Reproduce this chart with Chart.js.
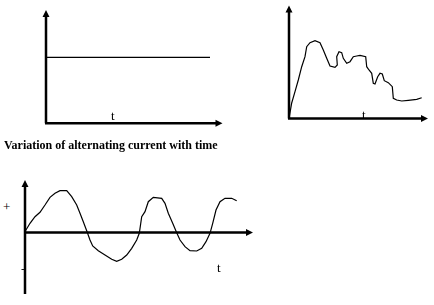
<!DOCTYPE html>
<html>
<head>
<meta charset="utf-8">
<script src="https://cdn.jsdelivr.net/npm/chart.js@4/dist/chart.umd.min.js"></script>
<style>
  html, body { margin: 0; padding: 0; background: #fff; }
  body { width: 434px; height: 305px; position: relative; overflow: hidden; }
  canvas { position: absolute; }
  .lbl { position: absolute; font-family: "Liberation Serif", serif; font-size: 13px; color: #000; line-height: 1; white-space: nowrap; }
  .title { font-weight: bold; font-size: 12px; }
</style>
</head>
<body>
<canvas id="dc"></canvas>
<canvas id="rect"></canvas>
<canvas id="ac"></canvas>

<div class="lbl" style="left:111px; top:109px;">t</div>
<div class="lbl" style="left:362px; top:108px;">t</div>
<div class="lbl title" style="left:4px; top:139px;">Variation of alternating current with time</div>
<div class="lbl" style="left:3px; top:200px;">+</div>
<div class="lbl" style="left:21px; top:262px;">-</div>
<div class="lbl" style="left:217px; top:261px;">t</div>

<script>
// top left: steady current
var dcTime = [0, 164];
var dcCurrent = [66, 66];

// top right: irregular current
var rectTime = [0, 2.7, 6, 9.3, 12.7, 16, 17.7, 21, 26, 31, 34.3, 37.7, 41, 46, 48.3, 47.7, 50, 52.7,
    54.3, 57.7, 61, 64.3, 67.7, 71, 76.7, 77.7, 80, 82.7, 84.3, 86, 88.7, 91, 93.3, 95.3, 99.3,
    103.3, 104.3, 107.7, 112.7, 119.3, 127.7, 132.7];
var rectCurrent = [0, 15.5, 26.8, 38.5, 51.8, 61.8, 71.8, 75.8, 77.8, 75.8, 68.5, 60.2, 52.5, 51.2, 53.5, 61.8, 66.8, 65.8,
    60.2, 55.2, 56.8, 61.8, 62.5, 63.2, 61.8, 51.8, 48.5, 45.2, 35.2, 34.5, 41.8, 45.2, 44.5, 37.8, 35.8,
    31.8, 20.2, 18.5, 17.5, 18.2, 19.2, 20.8];

// bottom: alternating current
var acTime = [0, 1, 5, 10, 15, 20, 25, 30, 35, 41.7, 46.7, 51.7, 55, 58.3, 61.7, 65, 67.7, 73.3, 80,
    86.7, 91.7, 96.7, 101.7, 106.7, 111.7, 114.3, 116.7, 120, 123.3, 128.3, 136.7, 140, 143.3, 147.7,
    151.7, 155, 160, 165, 171.7, 176.7, 181, 185, 187.7, 191, 195, 200, 206.7, 211.7];
var acCurrent = [1.5, 2.5, 9.2, 15.8, 20.2, 27.5, 35.2, 39.2, 41.8, 41.8, 35.8, 27.5, 19.2, 10.8, 1.8, -7.5, -13.5, -18.2, -22.5,
    -26.8, -28.8, -26.8, -22.5, -15.8, -7.5, -0.8, 15.8, 20.8, 30.8, 35.2, 34.2, 29.2, 19.2, 9.2,
    -0.2, -7.5, -14.2, -18.2, -18.5, -15.8, -9.2, -0.8, 9.2, 22.5, 30.8, 34.2, 34.2, 31.8];

function toPoints(xs, ys) {
    return xs.map(function (x, i) { return { x: x, y: ys[i] }; });
}

// draws the two axes with arrow heads, from the chart's own scales
var arrowAxes = {
    id: 'arrowAxes',
    afterDatasetsDraw: function (chart, args, opts) {
        var ctx = chart.ctx, sx = chart.scales.x, sy = chart.scales.y;
        var ox = sx.getPixelForValue(0), oy = sy.getPixelForValue(0);
        var xTip = sx.getPixelForValue(opts.xEnd);
        var yTip = sy.getPixelForValue(opts.yEnd);
        var yBot = sy.getPixelForValue(opts.yStart);
        ctx.save();
        ctx.strokeStyle = '#000';
        ctx.fillStyle = '#000';
        ctx.lineWidth = 2.5;
        ctx.beginPath();
        ctx.moveTo(ox, yBot);
        ctx.lineTo(ox, yTip + 5);
        ctx.moveTo(ox - 1, oy);
        ctx.lineTo(xTip - 5, oy);
        ctx.stroke();
        ctx.beginPath();
        ctx.moveTo(ox, yTip);
        ctx.lineTo(ox - 3.5, yTip + 7);
        ctx.lineTo(ox + 3.5, yTip + 7);
        ctx.closePath();
        ctx.moveTo(xTip, oy);
        ctx.lineTo(xTip - 7, oy - 3.5);
        ctx.lineTo(xTip - 7, oy + 3.5);
        ctx.closePath();
        ctx.fill();
        ctx.restore();
    }
};

function makeChart(id, box, points, axes) {
    var canvas = document.getElementById(id);
    canvas.width = box.w;
    canvas.height = box.h;
    canvas.style.left = box.left + 'px';
    canvas.style.top = box.top + 'px';
    canvas.style.width = box.w + 'px';
    canvas.style.height = box.h + 'px';
    return new Chart(canvas.getContext('2d'), {
        type: 'line',
        data: {
            datasets: [{
                data: points,
                borderColor: '#000',
                borderWidth: 1.2,
                pointRadius: 0,
                tension: 0,
                fill: false
            }]
        },
        options: {
            responsive: false,
            maintainAspectRatio: false,
            devicePixelRatio: 1,
            animation: false,
            layout: { padding: 0 },
            plugins: {
                legend: { display: false },
                tooltip: { enabled: false },
                arrowAxes: axes
            },
            scales: {
                x: { type: 'linear', display: false, min: box.left - box.ox, max: box.left + box.w - box.ox },
                y: { type: 'linear', display: false, min: box.oy - (box.top + box.h), max: box.oy - box.top }
            }
        },
        plugins: [arrowAxes]
    });
}

makeChart('dc', { left: 36, top: 2, w: 192, h: 130, ox: 46, oy: 123.3 },
    toPoints(dcTime, dcCurrent), { xEnd: 176.5, yEnd: 113.3, yStart: 0 });
makeChart('rect', { left: 279, top: 0, w: 155, h: 128, ox: 289, oy: 118.5 },
    toPoints(rectTime, rectCurrent), { xEnd: 139, yEnd: 113, yStart: 0 });
makeChart('ac', { left: 15, top: 172, w: 245, h: 128, ox: 25, oy: 232.5 },
    toPoints(acTime, acCurrent), { xEnd: 228, yEnd: 52.5, yStart: -61.5 });
</script>
</body>
</html>
